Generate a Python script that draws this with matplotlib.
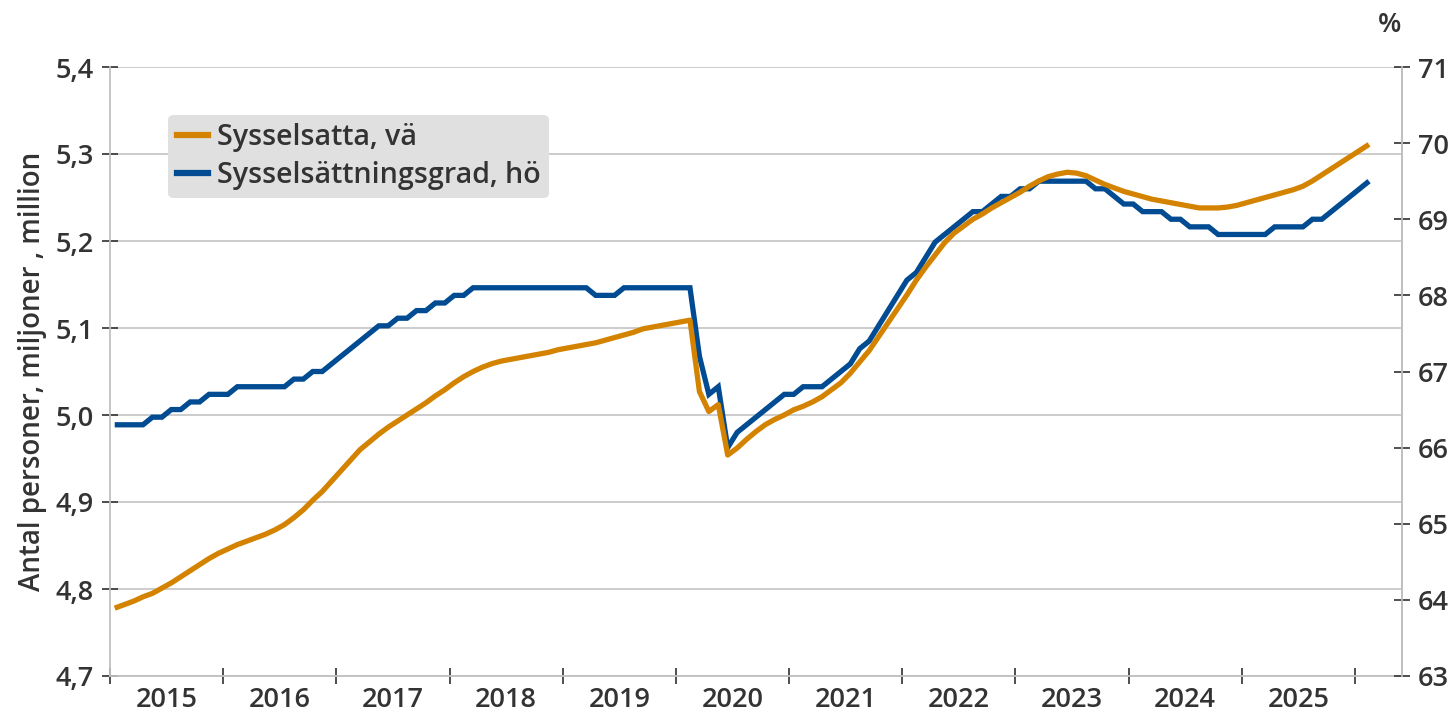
import matplotlib
matplotlib.use("Agg")
import matplotlib.pyplot as plt
from matplotlib.lines import Line2D
import numpy as np

# Monthly data, Jan 2015 .. Feb 2026
years = [str(y) for y in range(2015, 2026)]

sysselsatta = [  # millions, left axis
    4.778, 4.782, 4.786, 4.791, 4.795, 4.801, 4.807, 4.814, 4.821, 4.828, 4.835, 4.841,
    4.846, 4.851, 4.855, 4.859, 4.863, 4.868, 4.874, 4.882, 4.891, 4.902, 4.912, 4.924,
    4.936, 4.948, 4.960, 4.969, 4.978, 4.986, 4.993, 5.000, 5.007, 5.014, 5.022, 5.029,
    5.037, 5.044, 5.050, 5.055, 5.059, 5.062, 5.064, 5.066, 5.068, 5.070, 5.072, 5.075,
    5.077, 5.079, 5.081, 5.083, 5.086, 5.089, 5.092, 5.095, 5.099, 5.101, 5.103, 5.105,
    5.107, 5.109, 5.027, 5.004, 5.012, 4.954, 4.962, 4.972, 4.981, 4.989, 4.995, 5.000,
    5.006, 5.010, 5.015, 5.021, 5.029, 5.037, 5.048, 5.061, 5.074, 5.090, 5.106, 5.122,
    5.138, 5.155, 5.170, 5.184, 5.198, 5.209, 5.217, 5.225, 5.231, 5.238, 5.244, 5.250,
    5.256, 5.263, 5.269, 5.274, 5.277, 5.279, 5.278, 5.275, 5.270, 5.265, 5.261, 5.257,
    5.254, 5.251, 5.248, 5.246, 5.244, 5.242, 5.240, 5.238, 5.238, 5.238, 5.239, 5.241,
    5.244, 5.247, 5.250, 5.253, 5.256, 5.259, 5.263, 5.269, 5.276, 5.283, 5.290, 5.297,
    5.304, 5.311,
]

sysselsattningsgrad = [  # percent, right axis
    66.3, 66.3, 66.3, 66.3, 66.4, 66.4, 66.5, 66.5, 66.6, 66.6, 66.7, 66.7,
    66.7, 66.8, 66.8, 66.8, 66.8, 66.8, 66.8, 66.9, 66.9, 67.0, 67.0, 67.1,
    67.2, 67.3, 67.4, 67.5, 67.6, 67.6, 67.7, 67.7, 67.8, 67.8, 67.9, 67.9,
    68.0, 68.0, 68.1, 68.1, 68.1, 68.1, 68.1, 68.1, 68.1, 68.1, 68.1, 68.1,
    68.1, 68.1, 68.1, 68.0, 68.0, 68.0, 68.1, 68.1, 68.1, 68.1, 68.1, 68.1,
    68.1, 68.1, 67.2, 66.7, 66.8, 66.0, 66.2, 66.3, 66.4, 66.5, 66.6, 66.7,
    66.7, 66.8, 66.8, 66.8, 66.9, 67.0, 67.1, 67.3, 67.4, 67.6, 67.8, 68.0,
    68.2, 68.3, 68.5, 68.7, 68.8, 68.9, 69.0, 69.1, 69.1, 69.2, 69.3, 69.3,
    69.4, 69.4, 69.5, 69.5, 69.5, 69.5, 69.5, 69.5, 69.4, 69.4, 69.3, 69.2,
    69.2, 69.1, 69.1, 69.1, 69.0, 69.0, 68.9, 68.9, 68.9, 68.8, 68.8, 68.8,
    68.8, 68.8, 68.8, 68.9, 68.9, 68.9, 68.9, 69.0, 69.0, 69.1, 69.2, 69.3,
    69.4, 69.5,
]

left_ticks = [4.7, 4.8, 4.9, 5.0, 5.1, 5.2, 5.3, 5.4]
right_ticks = [63, 64, 65, 66, 67, 68, 69, 70, 71]

ORANGE = "#D48300"
BLUE = "#004B91"
TXT = "#333333"
GRID = "#c8c8c8"
FONT = "Open Sans"
FS = 19.5
FW = "semibold"

plt.rcParams["font.family"] = [FONT, "DejaVu Sans"]

fig = plt.figure(figsize=(14.55, 7.14), dpi=100)
ax = fig.add_axes([110 / 1455, 1 - 676 / 714, (1402 - 110) / 1455, (676 - 67) / 714])
ax_b = ax.twinx()
ax_o = ax.twinx()

x = np.arange(len(sysselsatta))
xlim = (-0.5, 136.5)

# base axis: grid + left scale
ax.set_xlim(*xlim)
ax.set_ylim(4.7, 5.4)
ax.set_yticks(left_ticks)
ax.set_yticklabels([f"{v:.1f}".replace(".", ",") for v in left_ticks], fontsize=FS,
                   color=TXT, fontweight=FW)
ax.yaxis.grid(True, color=GRID, linewidth=1.3)
ax.set_axisbelow(True)
ax.set_ylabel("Antal personer, miljoner , million", fontsize=20, color=TXT, labelpad=6,
              fontweight=FW)

# x axis: year boundary ticks, labels centered in each year
boundaries = [-0.5 + 12 * k for k in range(len(years) + 1)]
centers = [5.5 + 12 * k for k in range(len(years))]
ax.set_xticks(boundaries)
ax.set_xticklabels([])
ax.set_xticks(centers, minor=True)
ax.set_xticklabels(years, minor=True, fontsize=FS, color=TXT, fontweight=FW)
ax.tick_params(axis="x", which="major", direction="inout", length=11, width=1.3, color="#404040")
ax.tick_params(axis="x", which="minor", length=0, pad=7)
ax.tick_params(axis="y", direction="inout", length=11, width=1.3, color="#404040", pad=6)

ax.spines["top"].set_visible(False)
for s in ["left", "bottom", "right"]:
    ax.spines[s].set_color("#c0c0c0")
    ax.spines[s].set_linewidth(1.3)

# right axis: blue series
ax_b.set_ylim(63, 71)
ax_b.set_yticks(right_ticks)
ax_b.set_yticklabels([str(v) for v in right_ticks], fontsize=FS, color=TXT, fontweight=FW)
ax_b.tick_params(axis="y", direction="inout", length=11, width=1.3, color="#404040", pad=6)
for s in ["top", "left", "bottom"]:
    ax_b.spines[s].set_visible(False)
ax_b.spines["right"].set_color("#c0c0c0")
ax_b.spines["right"].set_linewidth(1.3)
ax_b.plot(x, sysselsattningsgrad, color=BLUE, linewidth=3.8, solid_joinstyle="miter",
          solid_capstyle="butt")
ax_b.set_xlim(*xlim)

# overlay axis for orange series on left scale
ax_o.set_ylim(4.7, 5.4)
ax_o.set_yticks([])
for s in ax_o.spines.values():
    s.set_visible(False)
ax_o.plot(x, sysselsatta, color=ORANGE, linewidth=3.8, solid_capstyle="butt")
ax_o.set_xlim(*xlim)

handles = [Line2D([0], [0], color=ORANGE, linewidth=4.5),
           Line2D([0], [0], color=BLUE, linewidth=4.5)]
leg = ax_o.legend(handles, ["Sysselsatta, vä", "Sysselsättningsgrad, hö"],
                  loc="upper left", bbox_to_anchor=(0.045, 0.922), borderaxespad=0,
                  prop={"size": 20.6, "weight": FW}, frameon=True, fancybox=True,
                  facecolor="#e0e0e0", edgecolor="none", framealpha=1,
                  handlelength=1.1, handletextpad=0.3, borderpad=0.3, labelspacing=0.3)
for t in leg.get_texts():
    t.set_color(TXT)

fig.text(1390 / 1455, 1 - 25 / 714, "%", fontsize=FS, color=TXT, ha="center", va="center",
         fontweight=FW)

fig.savefig("out.png", dpi=100)
